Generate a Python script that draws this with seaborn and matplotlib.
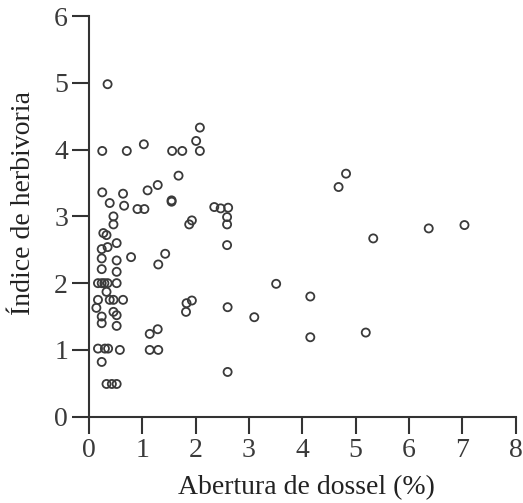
import numpy as np
import pandas as pd
import seaborn as sns
import matplotlib
matplotlib.use('Agg')
import matplotlib.pyplot as plt

# values
abertura = [0.35, 0.25, 0.71, 1.03, 1.56, 1.75, 2.08, 2.01, 2.08, 1.68,
            1.29, 1.10, 0.25, 0.64, 0.39, 0.66, 0.91, 1.04, 1.55, 1.55,
            0.46, 0.46, 1.93, 1.88, 0.27, 0.33, 0.52, 0.24, 0.35, 1.43,
            0.79, 0.52, 0.24, 0.52, 1.30, 0.24, 0.17, 0.24, 0.29, 0.35,
            0.52, 0.33, 0.17, 0.39, 0.64, 0.46, 0.46, 0.52, 0.24, 0.24,
            0.52, 0.14, 1.83, 1.93, 1.82, 1.14, 1.29, 0.17, 0.30, 0.36,
            0.58, 1.14, 1.30, 0.24, 0.33, 0.43, 0.52, 2.35, 2.47, 2.61,
            2.59, 2.59, 2.59, 3.51, 2.60, 3.10, 4.15, 4.15, 2.60, 4.82,
            4.68, 6.37, 7.04, 5.33, 5.19]
herbivoria = [4.98, 3.98, 3.98, 4.08, 3.98, 3.98, 4.33, 4.13, 3.98, 3.61,
              3.47, 3.39, 3.36, 3.34, 3.20, 3.16, 3.11, 3.11, 3.22, 3.24,
              3.00, 2.88, 2.94, 2.88, 2.75, 2.72, 2.60, 2.51, 2.54, 2.44,
              2.39, 2.34, 2.37, 2.17, 2.28, 2.21, 2.00, 2.00, 2.00, 2.00,
              2.00, 1.87, 1.75, 1.75, 1.75, 1.75, 1.57, 1.52, 1.50, 1.40,
              1.36, 1.63, 1.70, 1.74, 1.57, 1.24, 1.31, 1.02, 1.02, 1.02,
              1.00, 1.00, 1.00, 0.82, 0.49, 0.49, 0.49, 3.14, 3.12, 3.13,
              2.99, 2.88, 2.57, 1.99, 1.64, 1.49, 1.80, 1.19, 0.67, 3.64,
              3.44, 2.82, 2.87, 2.67, 1.26]

df = pd.DataFrame({'abertura': abertura, 'herbivoria': herbivoria})

sns.set_style('ticks')
plt.rcParams['font.family'] = ['Liberation Serif', 'DejaVu Serif']

fig, ax = plt.subplots(figsize=(5.23, 5.03), dpi=100)
fig.subplots_adjust(left=0.170, right=0.986, bottom=0.1716, top=0.968)

sns.scatterplot(data=df, x='abertura', y='herbivoria', ax=ax,
                marker='o', s=34, facecolors='none', edgecolor='#3a3a3a',
                linewidth=1.3, legend=False)

ax.set_xlim(0, 8)
ax.set_ylim(0, 6)
ax.set_xticks(range(0, 9))
ax.set_yticks(range(0, 7))
ax.margins(0)
sns.despine(ax=ax)
for side in ['left', 'bottom']:
    ax.spines[side].set_linewidth(1.5)
    ax.spines[side].set_color('#333333')
ax.tick_params(length=12, width=1.5, color='#333333', labelsize=20,
               labelcolor='#3a3a3a', pad=3)

ax.set_xlabel('Abertura de dossel (%)', fontsize=20, color='#222222')
ax.set_ylabel('Índice de herbivoria', fontsize=20, color='#222222')
ax.xaxis.set_label_coords(0.509, -0.145)
ax.yaxis.set_label_coords(-0.125, 0.533)

fig.savefig('out.png', dpi=100)
